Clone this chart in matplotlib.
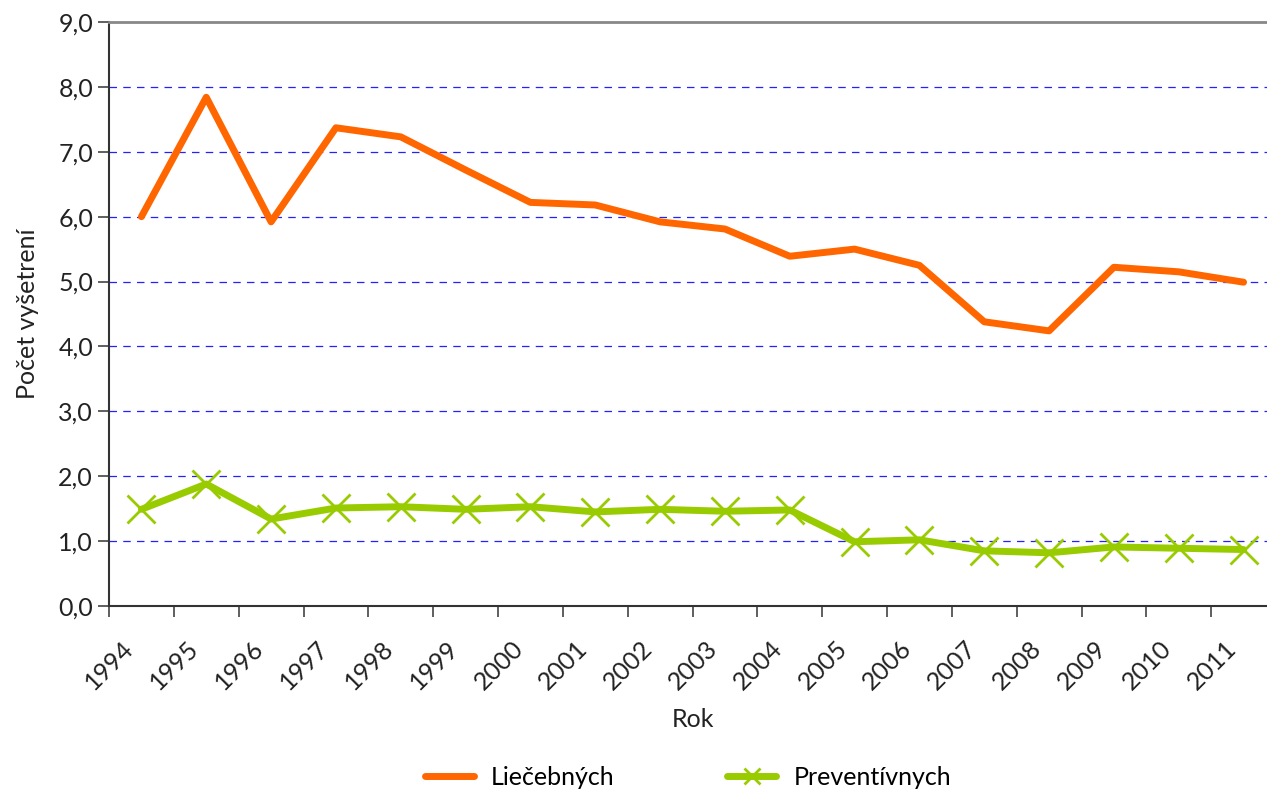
import numpy as np
import matplotlib
matplotlib.use("Agg")
import matplotlib.pyplot as plt
from matplotlib.ticker import FixedLocator, FuncFormatter

plt.rcParams['font.family'] = ['Lato', 'DejaVu Sans']

years = ['1994', '1995', '1996', '1997', '1998', '1999', '2000', '2001', '2002',
         '2003', '2004', '2005', '2006', '2007', '2008', '2009', '2010', '2011']
liecebnych = [6.00, 7.84, 5.92, 7.37, 7.23, 6.72, 6.22, 6.18, 5.92,
              5.81, 5.39, 5.50, 5.25, 4.38, 4.24, 5.22, 5.15, 4.99]
preventivnych = [1.49, 1.88, 1.34, 1.51, 1.53, 1.49, 1.53, 1.45, 1.49,
                 1.46, 1.48, 0.99, 1.02, 0.85, 0.82, 0.91, 0.89, 0.87]

fs = 18

fig = plt.figure(figsize=(12.67, 7.89), dpi=100)
ax = fig.add_axes([109 / 1267, 183 / 789, 1167 / 1267, 584 / 789])

x = np.arange(len(years)) + 0.5
ax.plot(x, liecebnych, color='#FF6600', lw=5, solid_capstyle='round',
        solid_joinstyle='round', label='Liečebných', zorder=3)
ax.plot(x, preventivnych, color='#99CC00', lw=5, marker='x', markersize=20,
        markeredgewidth=2, solid_capstyle='round', solid_joinstyle='round',
        label='Preventívnych', zorder=3)

ax.set_xlim(0, len(years))
ax.set_ylim(0, 9)

# y axis
ax.set_yticks(np.arange(0, 10, 1))
ax.yaxis.set_major_formatter(FuncFormatter(lambda v, p: f'{v:.1f}'.replace('.', ',')))
for yv in range(1, 9):
    ax.axhline(yv, color='#2222FF', lw=0.9, ls=(0, (6, 5)), zorder=1)

# x axis: ticks at category boundaries, labels shifted
ax.xaxis.set_major_locator(FixedLocator(np.arange(len(years) + 1)))
ax.xaxis.set_minor_locator(FixedLocator(np.arange(len(years)) + 0.2))
ax.xaxis.set_major_formatter(FuncFormatter(lambda v, p: ''))
ax.set_xticklabels(years, minor=True)
ax.tick_params(axis='x', which='minor', length=0, pad=22)
for lab in ax.get_xticklabels(minor=True):
    lab.set_rotation(45)
    lab.set_ha('right')
    lab.set_rotation_mode('anchor')

ax.tick_params(axis='both', which='major', direction='out', length=8,
               width=1.2, color='#444444', labelsize=fs, labelcolor='#222222')
ax.tick_params(axis='x', which='minor', labelsize=fs, labelcolor='#222222')

for s in ['left', 'bottom']:
    ax.spines[s].set_color('#333333')
    ax.spines[s].set_linewidth(1.5)
ax.spines['top'].set_color('#888888')
ax.spines['top'].set_linewidth(2)
ax.spines['right'].set_visible(False)

ax.set_xlabel('Rok', fontsize=fs, color='#222222', labelpad=10)
ax.set_ylabel('Počet vyšetrení', fontsize=fs, color='#222222', labelpad=14)

fig.legend(loc='lower center', bbox_to_anchor=(0.543, -0.028), ncol=2, frameon=False,
           fontsize=fs, handlelength=1.95, handletextpad=0.7, columnspacing=4.5,
           markerscale=0.6)

fig.savefig('out.png', dpi=100)
